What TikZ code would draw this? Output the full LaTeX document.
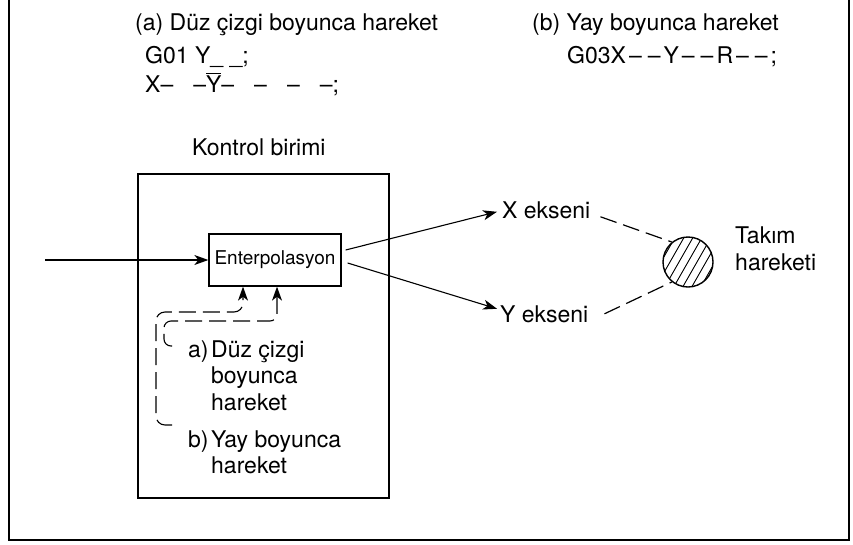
\documentclass[tikz,border=0pt]{standalone}
\usepackage{fontspec}
\setmainfont{TeX Gyre Heros}
\usetikzlibrary{arrows.meta}
\newcommand{\ybar}{\makebox[0pt][l]{\raisebox{18pt}{\rule{15pt}{1pt}}}Y}
\begin{document}
\begin{tikzpicture}[x=1pt,y=-1pt,
  txt/.style={inner sep=0pt, anchor=base west, font=\fontsize{23}{27}\selectfont},
  smalltxt/.style={font=\fontsize{19}{22}\selectfont, inner sep=0pt},
  box/.style={draw, line width=1.3pt},
  arr/.style={line width=1.1pt, -{Stealth[length=14pt,width=10pt,inset=4pt]}},
  dsh/.style={line width=1.2pt, dash pattern=on 17pt off 7pt},
  ]
\useasboundingbox (0,0) rectangle (853,544);
% outer frame (top edge outside the picture)
\draw[line width=1.6pt] (9,-5) -- (9,540) -- (849,540) -- (849,-5);

% top texts
\node[txt] (ha) at (135,30) {(a) Düz çizgi boyunca hareket};
\node[txt] (ga1) at (145,63) {G01 Y\_ \_;};
\node[txt] (ga2) at (145,92) {X–\hspace{20pt}–\ybar–\hspace{20pt}–\hspace{20pt}–\hspace{20pt}–;};
\node[txt] (hb) at (532,30) {(b) Yay boyunca hareket};
\node[txt] (gb) at (567,63) {G03X\hspace{3pt}–\hspace{6pt}–\hspace{3pt}Y\hspace{3pt}–\hspace{6pt}–\hspace{3pt}R\hspace{3pt}–\hspace{6pt}–\hspace{3pt};};

% control unit
\node[txt] (kb) at (192,155) {Kontrol birimi};
\node[box, minimum width=251pt, minimum height=324pt, inner sep=0pt] (ctrl) at (263.5,336) {};
\node[box, smalltxt, minimum width=132pt, minimum height=52pt] (enter) at (275,260) {Enterpolasyon};

% input
\coordinate (inp) at (45,260);
\draw[arr] (inp) -- (enter.west);

% feedback labels
\node[txt] (la) at (188,357) {a)};
\node[txt] (la1) at (211,357) {Düz çizgi};
\node[txt] (la2) at (211,383.5) {boyunca};
\node[txt] (la3) at (211,410) {hareket};
\node[txt] (lb) at (188,447) {b)};
\node[txt] (lb1) at (211,447) {Yay boyunca};
\node[txt] (lb2) at (211,473) {hareket};

% dashed feedback paths
\coordinate (fa) at (172,346);
\coordinate (fb) at (172,425);
\draw[dsh, arr, rounded corners=9pt] (fb) -| (156,312) -| ([xshift=-32pt]enter.south);
\draw[dsh, arr, rounded corners=7pt] (fa) -| (164,321) -| ([xshift=2pt]enter.south);

% axes
\node[txt] (xe) at (502,218) {X ekseni};
\node[txt] (ye) at (500,322) {Y ekseni};
\draw[arr] ([shift={(4,-10)}]enter.east) -- ([shift={(-5,2)}]xe.west);
\draw[arr] ([shift={(6,3)}]enter.east) -- ([shift={(-3,-5)}]ye.west);

% tool
\begin{scope}
  \clip (688,262) circle (25pt);
  \foreach \i in {-5,...,5}
    \draw[line width=0.9pt] ({688+\i*9-20},297) -- ({688+\i*9+20},227);
\end{scope}
\node[draw, circle, minimum size=50pt, inner sep=0pt, line width=1.4pt] (tool) at (688,262) {};
\draw[dsh] ([shift={(10,7)}]xe.east) -- (tool.129);
\draw[dsh] ([shift={(16,0)}]ye.east) -- (tool.231);

\node[txt] (tk1) at (735,243) {Takım};
\node[txt] (tk2) at (735,270) {hareketi};
\end{tikzpicture}
\end{document}
